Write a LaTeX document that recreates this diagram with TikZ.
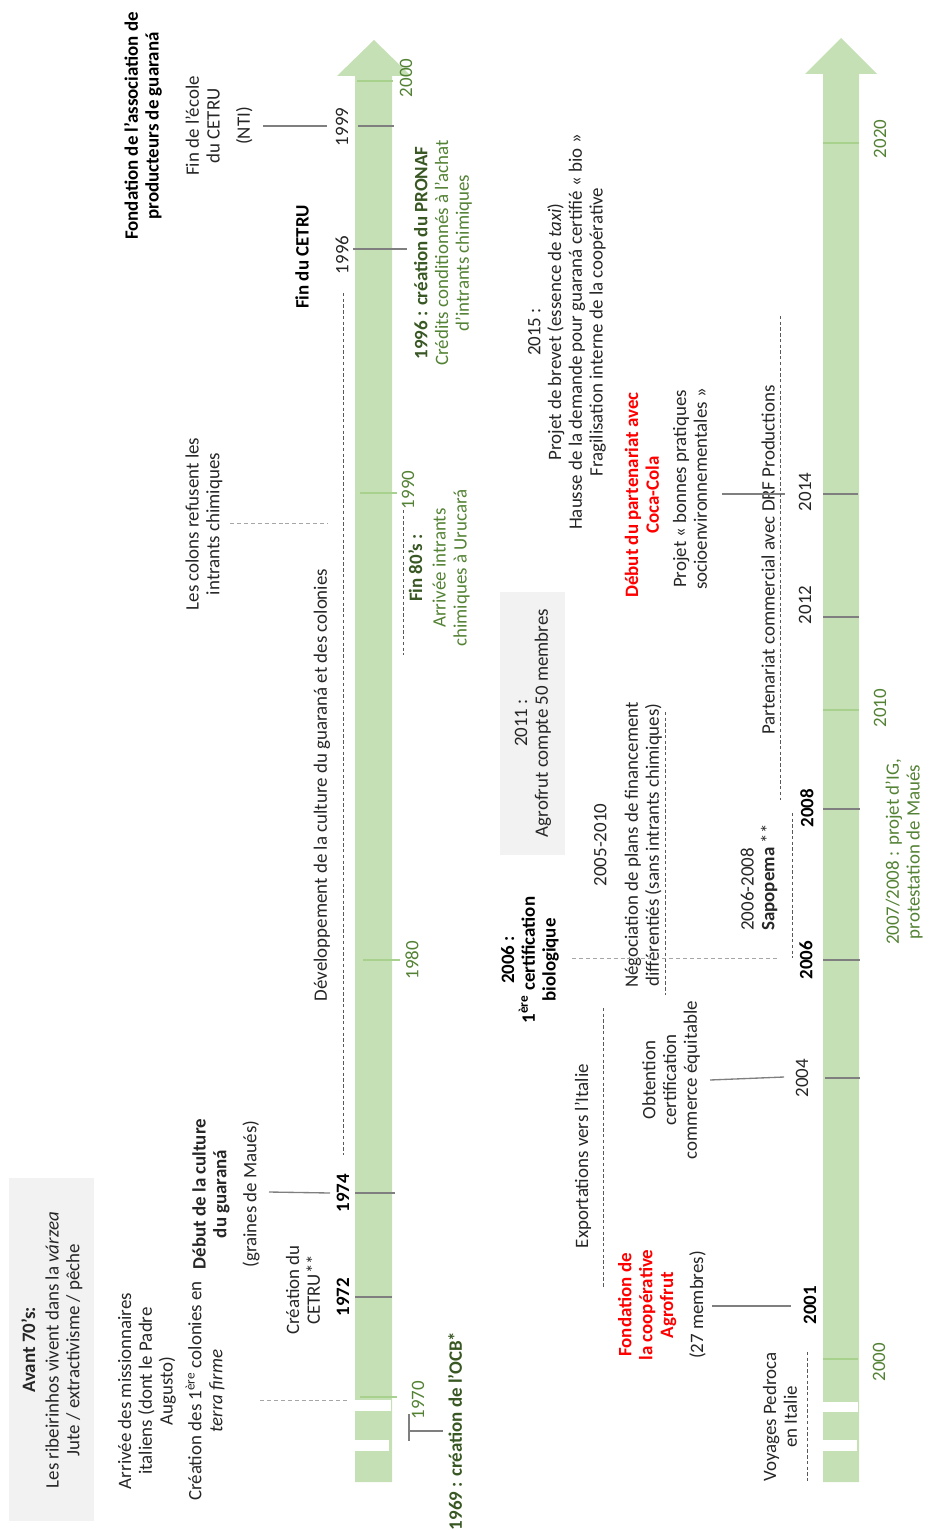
\documentclass[tikz,border=0pt]{standalone}
\usepackage{fontspec}
\setmainfont{Carlito}
\definecolor{band}{HTML}{C5E0B4}
\definecolor{gtxt}{HTML}{548235}
\definecolor{dgtxt}{HTML}{385723}
\definecolor{gtick}{HTML}{A9D18E}
\definecolor{boxg}{HTML}{F2F2F2}
\definecolor{tickg}{HTML}{7F7F7F}
\definecolor{dashd}{HTML}{595959}
\definecolor{dashl}{HTML}{A6A6A6}
\definecolor{txtc}{HTML}{262626}
\definecolor{redc}{HTML}{FF0000}
\tikzset{
  txt/.style={font=\fontsize{14.2}{15.6}\selectfont, rotate=90, align=center, inner sep=0pt, text=txtc},
  btxt/.style={txt, font=\fontsize{14.2}{15.6}\selectfont\bfseries, text=black},
  gyear/.style={txt, text=gtxt},
  tickln/.style={draw=tickg, line width=0.8pt},
  gtickln/.style={draw=gtick, line width=0.8pt},
  conn/.style={draw=tickg, line width=1pt},
  dashln/.style={draw=dashd, line width=0.75pt, dash pattern=on 2.5pt off 1.8pt},
  ldashln/.style={draw=dashl, line width=0.75pt, dash pattern=on 3pt off 2.2pt},
}
\begin{document}
\begin{tikzpicture}[x=0.75pt,y=-0.75pt]
\useasboundingbox (0,0) rectangle (931,1530);
% ---------- arrows ----------
\fill[band] (355,1482) -- (355,76) -- (337,76) -- (374,40) -- (411,76) -- (392,76) -- (392,1482) -- cycle;
\fill[band] (823,1482) -- (823,74) -- (805,74) -- (841,38) -- (877,74) -- (859,74) -- (859,1482) -- cycle;
\fill[white] (355,1400) rectangle (391,1411);
\fill[white] (355,1440) rectangle (389,1451);
\fill[white] (823,1402) rectangle (858,1412);
\fill[white] (823,1440) rectangle (857,1451);
% ---------- grey boxes ----------
\fill[boxg] (9,1178) rectangle (94,1521);
\fill[boxg] (500,592) rectangle (565,855);
% ---------- left timeline ticks ----------
\coordinate (a1970) at (360,1397); \coordinate (b1970) at (397,1397);
\draw[gtickln] (a1970) -- (b1970);
\coordinate (a1972) at (355,1297); \coordinate (b1972) at (392,1297);
\draw[tickln] (a1972) -- (b1972);
\coordinate (a1974) at (355,1193); \coordinate (b1974) at (395,1193);
\draw[tickln] (a1974) -- (b1974);
\coordinate (a1980) at (363,960); \coordinate (b1980) at (400,960);
\draw[gtickln] (a1980) -- (b1980);
\coordinate (a1990) at (360,493); \coordinate (b1990) at (397,493);
\draw[gtickln] (a1990) -- (b1990);
\coordinate (a1996) at (353,249); \coordinate (b1996) at (407,249);
\draw[tickln] (a1996) -- (b1996);
\coordinate (a1999) at (358,126); \coordinate (b1999) at (394,126);
\draw[tickln] (a1999) -- (b1999);
\coordinate (a2000) at (357,81); \coordinate (b2000) at (393,81);
\draw[gtickln] (a2000) -- (b2000);
% ---------- right timeline ticks ----------
\coordinate (c2000) at (823,1359); \coordinate (d2000) at (858,1359);
\draw[gtickln] (c2000) -- (d2000);
\coordinate (c2004) at (825,1078); \coordinate (d2004) at (860,1078);
\draw[tickln] (c2004) -- (d2004);
\coordinate (c2006) at (823,960); \coordinate (d2006) at (860,960);
\draw[tickln] (c2006) -- (d2006);
\coordinate (c2008) at (823,809); \coordinate (d2008) at (860,809);
\draw[tickln] (c2008) -- (d2008);
\coordinate (c2010) at (823,710); \coordinate (d2010) at (859,710);
\draw[gtickln] (c2010) -- (d2010);
\coordinate (c2012) at (823,617); \coordinate (d2012) at (859,617);
\draw[tickln] (c2012) -- (d2012);
\coordinate (c2014) at (823,494); \coordinate (d2014) at (858,494);
\draw[tickln] (c2014) -- (d2014);
\coordinate (c2020) at (823,143); \coordinate (d2020) at (859,143);
\draw[gtickln] (c2020) -- (d2020);
% ---------- left texts ----------
\node[txt] (avant) at (52,1350) {\textbf{Avant 70’s:}\\[2pt]Les ribeirinhos vivent dans la \textit{várzea}\\Jute / extractivisme / pêche};
\node[txt] (missio) at (147,1391) {Arrivée des missionnaires\\italiens (dont le Padre\\Augusto)};
\node[txt] (colon) at (205,1391) {Création des 1\textsuperscript{ère} colonies en\\\textit{terra firme}};
\node[txt] (debut) at (226,1194) {\textbf{Début de la culture}\\\textbf{du guaraná}\\[7pt](graines de Maués)};
\node[txt] (cetru) at (303,1290) {Création du\\CETRU**};
\node[btxt] (y1972) at (343,1297) {1972};
\node[btxt] (y1974) at (343,1193) {1974};
\node[txt] (devel) at (322,785) {Développement de la culture du guaraná et des colonies};
\node[txt] (refus) at (204,524) {Les colons refusent les\\intrants chimiques};
\node[btxt] (fincetru) at (302,257) {Fin du CETRU};
\node[btxt] (fondasso) at (143,126) {Fondation de l’association de\\producteurs de guaraná};
\node[txt] (finecole) at (219,126) {Fin de l’école\\du CETRU\\[7pt](NTI)};
\node[txt] (y1996) at (342,255) {1996};
\node[txt] (y1999) at (342,127) {1999};
\node[gyear] (y2000a) at (406,78) {2000};
\node[gyear] (y1990) at (408,490) {1990};
\node[gyear] (y1980) at (412,960) {1980};
\node[gyear] (y1970) at (418,1400) {1970};
\node[btxt, text=dgtxt] (ocb) at (455,1431) {1969 : création de l’OCB*};
\node[txt, text=gtxt] (pronaf) at (443,253) {\textbf{\color{dgtxt}1996 : création du PRONAF}\\Crédits conditionnés à l’achat\\d’intrants chimiques};
\node[txt, text=gtxt] (fin80) at (439,568) {\textbf{\color{dgtxt}Fin 80’s :}\\[2pt]Arrivée intrants\\chimiques à Urucará};
% ---------- right texts ----------
\node[txt] (agro50) at (533,723) {2011 :\\Agrofrut compte 50 membres};
\node[txt] (brevet) at (567,332) {2015 :\\Projet de brevet (essence de \textit{taxi})\\Hausse de la demande pour guaraná certifié «~bio~»\\Fragilisation interne de la coopérative};
\node[btxt, text=redc] (coca) at (642,495) {Début du partenariat avec\\Coca-Cola};
\node[txt] (bonnes) at (690,489) {Projet «~bonnes pratiques\\socioenvironnementales~»};
\node[txt] (nego) at (628,845) {2005-2010\\[8pt]Négociation de plans de financement\\différentiés (sans intrants chimiques)};
\node[btxt] (certbio) at (530,960) {2006 :\\1\textsuperscript{ère} certification\\biologique};
\node[txt] (export) at (583,1156) {Exportations vers l’Italie};
\node[txt] (equit) at (671,1080) {Obtention\\certification\\commerce équitable};
\node[txt] (agrofrut) at (662,1305) {\textbf{\color{redc}Fondation de}\\\textbf{\color{redc}la coopérative}\\\textbf{\color{redc}Agrofrut}\\[7pt](27 membres)};
\node[txt] (pedroca) at (780,1417) {Voyages Pedroca\\en Italie};
\node[txt, align=left, anchor=west] (sapo) at (759,931) {2006-2008\\\textbf{Sapopema} **};
\node[txt] (drf) at (768,560) {Partenariat commercial avec DRF Productions};
\node[txt, text=gtxt] (ig) at (904,852) {2007/2008 : projet d’IG,\\protestation de Maués};
\node[gyear] (y2000b) at (879,1362) {2000};
\node[btxt] (y2001) at (810,1305) {2001};
\node[txt] (y2004) at (802,1078) {2004};
\node[btxt] (y2006) at (806,960) {2006};
\node[btxt] (y2008) at (807,808) {2008};
\node[gyear] (y2010) at (880,708) {2010};
\node[txt] (y2012) at (805,605) {2012};
\node[txt] (y2014) at (805,492) {2014};
\node[gyear] (y2020) at (880,139) {2020};
% ---------- left connectors ----------
\coordinate (m1) at (260,1400); \coordinate (m2) at (350,1400);
\draw[ldashln] (m1) -- (m2);
\coordinate (g1) at (269,1192); \coordinate (g2) at (330,1193);
\draw[conn] (g1) -- (g2);
\coordinate (dv1) at (343,293); \coordinate (dv2) at (343,1155);
\draw[dashln] (dv1) -- (dv2);
\coordinate (r1) at (230,523); \coordinate (r2) at (328,523);
\draw[ldashln] (r1) -- (r2);
\coordinate (e1) at (263,126); \coordinate (e2) at (327,126);
\draw[conn] (e1) -- (e2);
\coordinate (f1) at (403,510); \coordinate (f2) at (403,655);
\draw[dashln] (f1) -- (f2);
\coordinate (o1) at (409,1431); \coordinate (o2) at (443,1431);
\coordinate (o3) at (409,1414); \coordinate (o4) at (409,1441);
\draw[conn, line width=0.8pt] (o1) -- (o2);
\draw[conn, line width=0.8pt] (o3) -- (o4);
% ---------- right connectors ----------
\coordinate (p1) at (712,1306); \coordinate (p2) at (791,1306);
\draw[conn] (p1) -- (p2);
\coordinate (q1) at (710,1080); \coordinate (q2) at (784,1077);
\draw[conn] (q1) -- (q2);
\coordinate (s1) at (722,494); \coordinate (s2) at (785,494);
\draw[conn] (s1) -- (s2);
\coordinate (cb1) at (572,958); \coordinate (cb2) at (778,958);
\draw[ldashln] (cb1) -- (cb2);
\coordinate (ex1) at (603,1008); \coordinate (ex2) at (603,1287);
\draw[dashln] (ex1) -- (ex2);
\coordinate (ng1) at (665,712); \coordinate (ng2) at (665,995);
\draw[dashln] (ng1) -- (ng2);
\coordinate (pa1) at (780,316); \coordinate (pa2) at (780,800);
\draw[dashln] (pa1) -- (pa2);
\coordinate (sp1) at (792,813); \coordinate (sp2) at (792,958);
\draw[dashln] (sp1) -- (sp2);
\coordinate (vp1) at (807,1352); \coordinate (vp2) at (807,1482);
\draw[dashln] (vp1) -- (vp2);
\end{tikzpicture}
\end{document}
